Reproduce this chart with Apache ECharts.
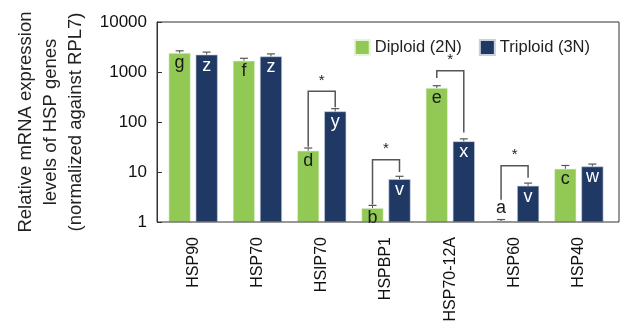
<!DOCTYPE html>
<html>
<head>
<meta charset="utf-8">
<script src="https://cdn.jsdelivr.net/npm/echarts@6/dist/echarts.min.js"></script>
<style>
html,body{margin:0;padding:0;background:#fff;}
#chart{width:620px;height:325px;}
</style>
</head>
<body>
<div id="chart"></div>
<script>
// Gene categories and expression levels (relative to RPL7)
const genes = ['HSP90', 'HSP70', 'HSIP70', 'HSPBP1', 'HSP70-12A', 'HSP60', 'HSP40'];
const diploid = [2400, 1680, 26.7, 1.9, 478, 1.05, 11.6];
const triploid = [2220, 2050, 163, 7.2, 41, 5.3, 12.9];
// Upper end of each error bar
const diploidErr = [2650, 1880, 30.2, 2.15, 532, 1.12, 13.5];
const triploidErr = [2500, 2300, 185, 8.2, 46, 6.0, 14.4];
// Significance letters
const diploidLetters = ['g', 'f', 'd', 'b', 'e', 'a', 'c'];
const triploidLetters = ['z', 'z', 'y', 'v', 'x', 'v', 'w'];
// Significance brackets: [category, bracket top, left leg end, right leg end]
const brackets = [
  [2, 410, 32, 198],
  [3, 17.6, 2.25, 10],
  [4, 1060, 760, 62],
  [5, 13.4, 2.8, 7.7]
];
const yTicks = [1, 10, 100, 1000, 10000];

const GREEN = '#92c955';
const NAVY = '#1f3864';
const BAR_W = 22;
const HALF_STEP = 13.5; // distance from category centre to each bar centre
const FONT = 'Liberation Sans, Arial, sans-serif';

const chart = echarts.init(document.getElementById('chart'));

function errorSeries(values, errs, side) {
  return {
    type: 'custom',
    z: 5,
    data: genes.map((g, i) => [i, values[i], errs[i]]),
    renderItem: function (params, api) {
      const base = api.coord([api.value(0), api.value(1)]);
      const top = api.coord([api.value(0), api.value(2)]);
      const x = base[0] + side * HALF_STEP;
      return {
        type: 'group',
        children: [
          { type: 'line', shape: { x1: x, y1: base[1], x2: x, y2: top[1] }, style: { stroke: '#555', lineWidth: 1 } },
          { type: 'line', shape: { x1: x - 4, y1: top[1], x2: x + 4, y2: top[1] }, style: { stroke: '#555', lineWidth: 1.2 } }
        ]
      };
    }
  };
}

const option = {
  animation: false,
  backgroundColor: '#fff',
  // Frame around the plotting area (slightly wider than the category band)
  graphic: [{
    type: 'rect',
    z: 10,
    silent: true,
    shape: { x: 157, y: 22, width: 462, height: 200 },
    style: { fill: null, stroke: '#333', lineWidth: 1 }
  }],
  grid: {
    left: 161, right: 9, top: 22, bottom: 103
  },
  legend: {
    top: 34, right: 25,
    itemWidth: 15, itemHeight: 15, itemGap: 17,
    icon: 'rect',
    textStyle: { fontFamily: FONT, fontSize: 16.5, color: '#222' },
    data: ['Diploid (2N)', 'Triploid (3N)']
  },
  xAxis: {
    type: 'category',
    data: genes,
    axisLine: { show: false },
    axisTick: { show: false },
    axisLabel: {
      rotate: 90, margin: 15, color: '#111',
      fontFamily: FONT, fontSize: 16
    }
  },
  yAxis: {
    type: 'log',
    logBase: 10,
    offset: 4,
    min: yTicks[0], max: yTicks[yTicks.length - 1],
    name: 'Relative mRNA expression\nlevels of HSP genes\n(normalized against RPL7)',
    nameLocation: 'middle',
    nameGap: 67,
    nameTextStyle: {
      fontFamily: FONT, fontSize: 18.5, color: '#222', lineHeight: 25
    },
    splitLine: { show: false },
    axisLine: { show: true, lineStyle: { color: '#333', width: 1 } },
    axisTick: { show: true, inside: true, length: 5, lineStyle: { color: '#333' } },
    axisLabel: {
      margin: 10, color: '#111',
      fontFamily: FONT, fontSize: 17,
      formatter: function (v) { return String(Math.round(v)); }
    }
  },
  series: [
    {
      name: 'Diploid (2N)',
      type: 'bar',
      barWidth: BAR_W,
      barGap: '23%',
      itemStyle: { color: GREEN, borderColor: '#e8f3dc', borderWidth: 0.6 },
      data: diploid.map((v, i) => ({
        value: v,
        label: {
          show: true,
          formatter: diploidLetters[i],
          position: v < 1.5 ? 'top' : 'insideTop',
          distance: v < 1.5 ? 4 : 1,
          color: '#1a1a1a',
          fontFamily: FONT,
          fontSize: 18
        }
      }))
    },
    {
      name: 'Triploid (3N)',
      type: 'bar',
      barWidth: BAR_W,
      itemStyle: { color: NAVY, borderColor: '#c8d0dc', borderWidth: 0.6 },
      data: triploid.map((v, i) => ({
        value: v,
        label: {
          show: true,
          formatter: triploidLetters[i],
          position: 'insideTop',
          distance: 2,
          color: '#fff',
          fontFamily: FONT,
          fontSize: 18
        }
      }))
    },
    errorSeries(diploid, diploidErr, -1),
    errorSeries(triploid, triploidErr, 1),
    {
      type: 'custom',
      z: 6,
      data: brackets,
      renderItem: function (params, api) {
        const c = api.value(0);
        const topP = api.coord([c, api.value(1)]);
        const leftP = api.coord([c, api.value(2)]);
        const rightP = api.coord([c, api.value(3)]);
        const xl = topP[0] - HALF_STEP;
        const xr = topP[0] + HALF_STEP;
        return {
          type: 'group',
          children: [
            {
              type: 'polyline',
              shape: { points: [[xl, leftP[1]], [xl, topP[1]], [xr, topP[1]], [xr, rightP[1]]] },
              style: { stroke: '#555', lineWidth: 1.5, fill: null }
            },
            {
              type: 'text',
              style: {
                text: '*', x: topP[0], y: topP[1] - 3,
                textAlign: 'center', textVerticalAlign: 'bottom',
                fontFamily: FONT, fontSize: 15, fill: '#222'
              }
            }
          ]
        };
      }
    }
  ]
};

chart.setOption(option);
</script>
</body>
</html>
